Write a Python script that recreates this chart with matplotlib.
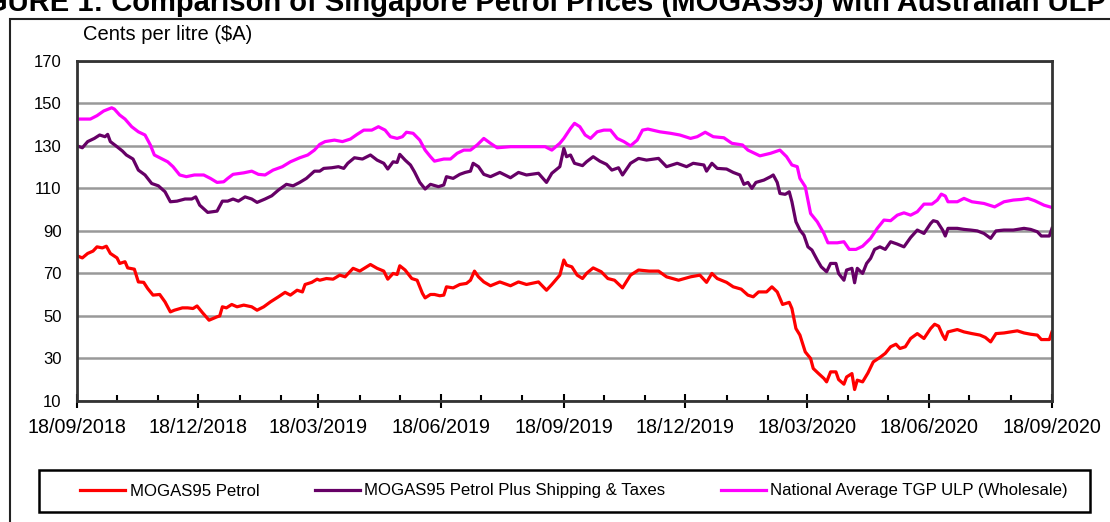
import pandas as pd
import matplotlib
matplotlib.use("Agg")
import matplotlib.pyplot as plt
import matplotlib.dates as mdates
from matplotlib.patches import Rectangle

plt.rcParams['font.family'] = ['Liberation Sans', 'DejaVu Sans']

start = pd.Timestamp('2018-09-18')
end = pd.Timestamp('2020-09-18')

# days since 18/09/2018, cents per litre
tgp_days = [0, 10, 15, 20, 26, 28, 32, 36, 41, 46, 51, 55, 58, 64, 68, 72, 77, 82, 88, 95,
            100, 105, 110, 113, 117, 125, 131, 136, 141, 147, 154, 160, 167, 173, 178, 182,
            186, 193, 199, 205, 210, 215, 221, 226, 231, 235, 240, 244, 247, 252, 257, 261,
            265, 268, 275, 280, 285, 290, 295, 300, 305, 310, 315, 325, 335, 345, 351, 356, 362,
            365, 370, 373, 377, 381, 385, 390, 395, 400, 405, 410, 415, 420, 424, 428, 437,
            445, 452, 460, 465, 471, 477, 485, 491, 499, 503, 512, 520, 527, 532, 536, 540, 542,
            546, 550, 555, 560, 563, 570, 575, 579, 584, 589, 595, 600, 605, 610, 615, 620,
            625, 630, 635, 641, 645, 648, 651, 653, 660, 665, 671, 680, 688, 695, 702, 708,
            713, 718, 725, 731]
tgp_vals = [142.6, 142.6, 144.2, 146.4, 147.9, 147.3, 144.5, 142.6, 139.0, 136.6, 135.1, 130.4,
            125.7, 123.8, 122.5, 120.2, 116.3, 115.5, 116.3, 116.3, 114.7, 112.8, 113.1, 114.7,
            116.6, 117.3, 118.1, 116.6, 116.3, 118.6, 120.2, 122.5, 124.4, 125.7, 128.0, 130.7,
            132.0, 132.7, 132.0, 133.2, 135.4, 137.4, 137.4, 139.0, 137.4, 134.3, 133.5, 134.3,
            136.4, 135.9, 132.7, 128.0, 124.9, 122.8, 123.8, 123.8, 126.5, 128.0, 128.0, 130.4,
            133.5, 131.2, 129.1, 129.6, 129.6, 129.6, 129.6, 128.0, 131.2,
            133.5, 138.2, 140.6, 139.0, 135.1, 133.5, 136.6, 137.4, 137.4, 133.5, 132.0, 130.0,
            132.7, 137.4, 137.9, 136.6, 135.9, 135.1, 133.5, 134.3, 136.4, 134.3, 133.8, 131.2,
            130.4, 128.0, 125.3, 126.5, 128.0, 124.9, 121.0, 120.2, 114.7,
            110.8, 98.2, 94.3, 88.8, 84.4, 84.4, 84.9, 81.3, 81.3, 82.8, 86.5, 91.2, 95.1, 94.8,
            97.4, 98.5, 97.4, 99.0, 102.6, 102.6, 104.5, 107.3, 106.4, 103.7, 103.7, 105.3,
            103.7, 102.9, 101.3, 103.7, 104.5, 104.8, 105.3, 104.2, 102.1, 101.0]

plus_days = [0, 4, 8, 13, 17, 21, 23, 25, 30, 34, 37, 42, 46, 51, 56, 61, 66, 70, 75, 81,
             86, 89, 92, 98, 105, 109, 113, 117, 121, 126, 131, 135, 141, 146, 151, 157, 162,
             167, 172, 178, 182,
             185, 191, 196, 200, 203, 208, 214, 220, 225, 230, 233, 237, 240, 242, 246, 250,
             253, 257, 261, 265, 271, 275, 277, 282, 287, 291, 295, 297, 301, 305, 310, 317,
             325, 331, 337, 346, 352, 356, 362,
             365, 367, 370, 373, 379, 382, 387, 392, 397, 401, 406, 409, 415, 421, 427, 436,
             442, 450, 457, 462, 470, 472, 476, 480, 487, 492, 497, 500, 503, 506, 509, 515,
             520, 522, 525, 527, 531, 534, 536, 539, 542,
             545, 548, 551, 555, 558, 562, 565, 569, 571, 575, 577, 581, 583, 585, 589, 592,
             595, 598, 602, 606, 610, 615, 620, 625, 630, 635, 640, 642, 645, 649, 651, 653,
             660, 665, 670, 675, 680, 685, 689, 695, 702, 710, 715, 720, 723, 729, 731]
plus_vals = [130.0, 129.1, 132.0, 133.5, 135.1, 134.3, 135.4, 132.0, 129.6, 127.6, 125.7, 123.8,
             118.6, 116.3, 112.3, 111.2, 108.4, 103.7, 104.0, 105.0, 105.0, 106.0, 102.1, 98.7,
             99.3, 104.0, 104.0, 105.0, 104.0, 106.0, 105.0, 103.4, 105.0, 106.5, 109.2, 111.9,
             111.2, 112.8, 114.7, 118.1, 118.1,
             119.4, 119.7, 120.2, 119.4, 121.8, 124.4, 123.8, 125.7, 123.3, 121.8, 119.1, 122.5,
             122.2, 126.0, 123.3, 121.0, 117.8, 112.8, 109.7, 111.9, 110.8, 111.6, 115.5, 114.7,
             116.6, 117.5, 118.1, 121.8, 120.2, 116.6, 115.5, 117.5, 115.0, 117.5, 116.3, 117.1,
             112.8, 117.1, 120.2,
             128.8, 124.9, 125.7, 121.8, 120.7, 122.5, 124.9, 122.8, 121.3, 118.6, 119.7, 116.3,
             121.8, 124.1, 123.3, 124.1, 120.2, 121.8, 120.2, 121.8, 121.0, 118.1, 121.8, 119.4,
             119.1, 117.5, 116.3, 111.9, 112.8, 110.0, 112.8, 113.9, 115.5, 116.3, 112.8, 107.6,
             107.2, 108.4, 103.7, 94.3, 90.4,
             88.0, 82.5, 81.0, 76.3, 73.1, 70.8, 74.7, 74.7, 70.0, 66.8, 71.6, 72.4, 65.6, 72.4,
             70.0, 74.7, 77.1, 81.3, 82.5, 81.3, 84.9, 83.8, 82.5, 86.9, 90.4, 88.8, 93.5, 94.8,
             94.3, 90.4, 87.6, 91.2, 91.2, 90.7, 90.4, 90.0, 88.8, 86.5, 90.0, 90.4, 90.4, 91.2,
             90.7, 89.6, 87.6, 87.6, 91.2]

mogas_days = [0, 4, 8, 12, 15, 19, 22, 25, 30, 32, 36, 38, 43, 46, 50, 53, 57, 62, 66, 70,
              73, 79, 83, 87, 90, 94, 99, 105, 107, 109, 112, 116, 120, 125, 131, 135, 140, 145,
              151, 156, 160, 165, 169, 171, 176, 180, 182,
              187, 192, 197, 201, 207, 212, 220, 225, 230, 233, 237, 240, 242, 246, 251, 255,
              259, 261, 265, 268, 272, 275, 277, 282, 287, 292, 295, 298, 301, 305, 310, 317,
              325, 331, 337, 346, 352, 356, 362,
              365, 367, 371, 375, 379, 382, 387, 393, 398, 403, 409, 415, 421, 429, 436, 442,
              451, 460, 467, 472, 476, 480, 487, 492, 498, 503, 507, 511, 517, 521, 525, 529,
              534, 536, 539, 542,
              546, 550, 552, 556, 560, 562, 565, 569, 571, 575, 577, 581, 583, 585, 589, 593,
              597, 602, 606, 610, 614, 617, 621, 625, 630, 635, 640, 643, 646, 649, 651, 653,
              660, 665, 671, 677, 681, 685, 689, 695, 705, 710, 715, 720, 723, 729, 731]
mogas_vals = [78.3, 77.3, 79.4, 80.5, 82.5, 82.0, 82.8, 79.4, 77.3, 74.7, 75.5, 72.6, 72.0, 66.0,
              65.8, 62.9, 59.8, 60.1, 56.6, 51.9, 52.7, 53.8, 53.8, 53.5, 54.7, 51.6, 48.0, 49.6,
              50.0, 54.3, 53.8, 55.4, 54.3, 55.1, 54.3, 52.7, 54.3, 56.6, 59.0, 61.1, 59.8, 62.1,
              61.3, 64.8, 65.8, 67.3, 66.8,
              67.6, 67.3, 69.2, 68.4, 72.4, 71.1, 74.2, 72.4, 71.1, 67.3, 70.0, 69.5, 73.6, 71.6,
              67.6, 66.8, 60.6, 58.5, 60.1, 60.1, 59.5, 59.8, 63.7, 63.2, 64.8, 65.3, 66.8, 71.1,
              68.4, 66.0, 64.2, 66.0, 64.2, 66.0, 64.8, 66.0, 62.1, 64.8, 69.2,
              76.3, 73.9, 73.1, 69.2, 67.6, 70.0, 72.6, 70.8, 67.6, 66.8, 63.2, 69.2, 71.6, 71.1,
              71.1, 68.4, 66.8, 68.4, 69.2, 65.8, 70.0, 67.6, 65.8, 63.7, 62.6, 59.8, 59.0, 61.3,
              61.3, 63.7, 61.3, 55.4, 56.4, 53.5, 44.1, 41.0,
              33.1, 30.0, 25.3, 22.9, 20.6, 19.0, 23.7, 23.7, 20.1, 17.9, 21.3, 22.9, 15.4, 19.8,
              19.0, 23.2, 28.4, 30.5, 32.4, 35.5, 36.7, 34.7, 35.5, 39.4, 41.7, 39.4, 44.1, 46.1,
              45.2, 41.0, 38.9, 42.5, 43.6, 42.5, 41.7, 41.0, 39.9, 37.8, 41.7, 42.0, 43.0, 42.0,
              41.4, 41.0, 38.9, 38.9, 42.5]

series_names = ['MOGAS95 Petrol', 'MOGAS95 Petrol Plus Shipping & Taxes',
                'National Average TGP ULP (Wholesale)']
colors = ['#FF0000', '#660066', '#FF00FF']
yticks = [10, 30, 50, 70, 90, 110, 130, 150, 170]

W, H = 1110, 522
fig = plt.figure(figsize=(W / 100, H / 100), dpi=100)
ax = fig.add_axes([77 / W, 1 - 401 / H, (1052 - 77) / W, (401 - 60.8) / H])

to_dates = lambda d: start + pd.to_timedelta(d, unit='D')
l1, = ax.plot(to_dates(mogas_days), mogas_vals, color=colors[0], lw=2.3, label=series_names[0])
l2, = ax.plot(to_dates(plus_days), plus_vals, color=colors[1], lw=2.3, label=series_names[1])
l3, = ax.plot(to_dates(tgp_days), tgp_vals, color=colors[2], lw=2.3, label=series_names[2])

ax.set_xlim(start, end)
ax.set_ylim(10, 170)
ax.set_yticks(yticks)
ax.yaxis.grid(True, color='#999999', lw=1.8)
ax.set_axisbelow(True)
ax.tick_params(axis='y', length=0, pad=11, labelsize=12)

ax.xaxis.set_major_locator(mdates.MonthLocator(bymonth=[3, 6, 9, 12], bymonthday=18))
ax.xaxis.set_minor_locator(mdates.MonthLocator(bymonthday=18))
ax.xaxis.set_major_formatter(mdates.DateFormatter('%d/%m/%Y'))
ax.tick_params(axis='x', which='major', direction='inout', length=10, width=1.5,
               labelsize=14.2, pad=7)
ax.tick_params(axis='x', which='minor', direction='in', length=4, width=1.5)

for s in ax.spines.values():
    s.set_color('#333333')
    s.set_linewidth(2)

fig.text(83 / W, 1 - 35 / H, 'Cents per litre ($A)', fontsize=14.5, va='center', ha='left')

# title, cut off at the top of the picture as in the source
fig.text(1106 / W, 1 - 11 / H,
         'FIGURE 1: Comparison of Singapore Petrol Prices (MOGAS95) with Australian ULP',
         fontsize=21, fontweight='bold', ha='right', va='baseline')

# outer frame
fig.add_artist(Rectangle((10 / W, -0.1), 1.2, 1.1 - 19 / H, transform=fig.transFigure,
                         fill=False, edgecolor='#222222', lw=1.5, clip_on=False))

# legend box
fig.add_artist(Rectangle((39 / W, 1 - 512 / H), (1090 - 39) / W, 42 / H,
                         transform=fig.transFigure, fill=False, edgecolor='black', lw=1.8))
fig.legend(handles=[l1, l2, l3], ncol=3, loc='center',
           bbox_to_anchor=(574 / W, 1 - 491 / H), frameon=False, fontsize=12.1,
           handlelength=2.7, handletextpad=0.25, columnspacing=3.3)

fig.savefig('out.png', dpi=100)
